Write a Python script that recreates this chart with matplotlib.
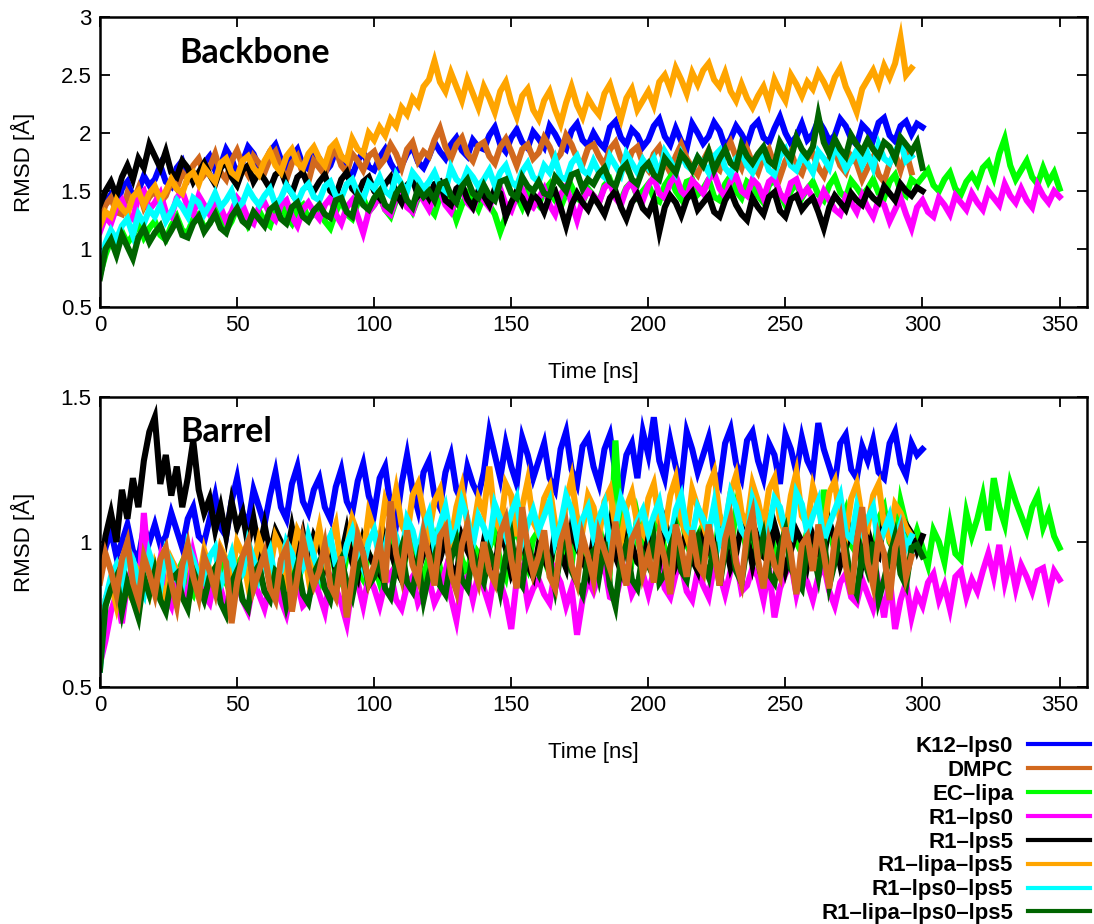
import numpy as np
import matplotlib
matplotlib.use("Agg")
import matplotlib.pyplot as plt

plt.rcParams['font.family'] = ['Liberation Sans', 'DejaVu Sans']

STEP_NS = 2  # sampling interval of the RMSD traces

labels = ['K12\u2013lps0', 'DMPC', 'EC\u2013lipa', 'R1\u2013lps0', 'R1\u2013lps5',
          'R1\u2013lipa\u2013lps5', 'R1\u2013lps0\u2013lps5', 'R1\u2013lipa\u2013lps0\u2013lps5']
colors = ['#0000ff', '#d2691e', '#00ff00', '#ff00ff', '#000000',
          '#ffa500', '#00ffff', '#006400']

# ---- Backbone RMSD [A], one row = 20 ns ----
bb_k12 = [1.28, 1.40, 1.47, 1.36, 1.52, 1.58, 1.45, 1.50, 1.63, 1.55,
          1.60, 1.72, 1.58, 1.54, 1.70, 1.76, 1.62, 1.66, 1.59, 1.74,
          1.80, 1.68, 1.72, 1.86, 1.78, 1.64, 1.75, 1.88, 1.82, 1.70,
          1.74, 1.84, 1.90, 1.77, 1.68, 1.80, 1.86, 1.72, 1.69, 1.83,
          1.78, 1.66, 1.72, 1.85, 1.80, 1.70, 1.63, 1.76, 1.84, 1.71,
          1.68, 1.79, 1.86, 1.74, 1.66, 1.72, 1.82, 1.88, 1.75, 1.70,
          1.80, 1.92, 1.84, 1.78, 1.90, 1.96, 1.85, 1.80, 1.94, 1.88,
          1.86, 1.98, 2.05, 1.90, 1.84, 1.96, 2.03, 1.92, 1.87, 2.01,
          1.95, 1.88, 2.06, 1.99, 1.90, 1.86, 2.02, 2.08, 1.94, 1.89,
          2.00, 1.92, 1.87, 2.05, 2.10, 1.96, 1.90, 2.03, 1.98, 1.88,
          1.94, 2.06, 2.12, 1.97, 1.90, 2.04, 1.93, 1.87, 2.08, 2.00,
          1.91, 1.97, 2.09, 2.02, 1.88, 1.95, 2.06, 1.99, 1.90, 2.05,
          2.10, 1.96, 1.92, 2.04, 2.14, 2.00, 1.91, 1.97, 2.08, 1.94,
          1.99, 2.11, 2.03, 1.93, 1.98, 2.12, 2.06, 1.95, 1.90, 2.07,
          2.02, 1.94, 2.09, 2.13, 1.98, 1.93, 2.06, 2.10, 1.99, 2.08,
          2.05]
bb_dmpc = [1.25, 1.38, 1.44, 1.32, 1.30, 1.48, 1.40, 1.52, 1.36, 1.45,
           1.50, 1.40, 1.46, 1.58, 1.52, 1.66, 1.60, 1.72, 1.78, 1.64,
           1.70, 1.82, 1.66, 1.60, 1.76, 1.85, 1.72, 1.64, 1.80, 1.74,
           1.66, 1.78, 1.84, 1.70, 1.60, 1.74, 1.80, 1.65, 1.58, 1.76,
           1.70, 1.64, 1.79, 1.86, 1.72, 1.66, 1.82, 1.76, 1.68, 1.80,
           1.84, 1.72, 1.78, 1.90, 1.82, 1.70, 1.86, 1.92, 1.76, 1.84,
           1.80, 1.94, 2.04, 1.88, 1.78, 1.90, 1.96, 1.82, 1.76, 1.89,
           1.92, 1.80, 1.74, 1.88, 1.95, 1.84, 1.72, 1.86, 1.90, 1.78,
           1.83, 1.96, 1.88, 1.76, 1.82, 1.98, 1.90, 1.78, 1.73, 1.87,
           1.90, 1.80, 1.72, 1.86, 1.92, 1.78, 1.70, 1.84, 1.88, 1.74,
           1.68, 1.82, 1.88, 1.75, 1.66, 1.80, 1.90, 1.78, 1.70, 1.64,
           1.76, 1.85, 1.72, 1.68, 1.83, 1.92, 1.79, 1.70, 1.86, 1.74,
           1.66, 1.80, 1.86, 1.72, 1.62, 1.76, 1.84, 1.70, 1.65, 1.79,
           1.82, 1.70, 1.63, 1.78, 1.85, 1.72, 1.66, 1.80, 1.74, 1.60,
           1.70, 1.79, 1.64, 1.58, 1.74, 1.82, 1.68, 1.84, 1.66]
bb_eclipa = [0.78, 0.95, 1.08, 1.02, 1.15, 1.05, 1.12, 1.22, 1.10, 1.18,
             1.24, 1.12, 1.08, 1.20, 1.28, 1.16, 1.14, 1.26, 1.30, 1.18,
             1.22, 1.34, 1.26, 1.16, 1.24, 1.36, 1.30, 1.20, 1.28, 1.33,
             1.24, 1.20, 1.35, 1.40, 1.28, 1.22, 1.34, 1.38, 1.26, 1.30,
             1.36, 1.24, 1.18, 1.32, 1.42, 1.30, 1.26, 1.40, 1.44, 1.32,
             1.38, 1.46, 1.34, 1.28, 1.42, 1.50, 1.40, 1.32, 1.44, 1.48,
             1.36, 1.30, 1.45, 1.52, 1.40, 1.25, 1.38, 1.48, 1.42, 1.34,
             1.46, 1.38, 1.30, 1.15, 1.28, 1.40, 1.46, 1.36, 1.50, 1.44,
             1.38, 1.50, 1.56, 1.42, 1.36, 1.48, 1.54, 1.44, 1.40, 1.52,
             1.46, 1.40, 1.55, 1.60, 1.48, 1.42, 1.53, 1.58, 1.45, 1.50,
             1.56, 1.44, 1.41, 1.55, 1.62, 1.50, 1.43, 1.58, 1.60, 1.47,
             1.52, 1.60, 1.45, 1.42, 1.56, 1.63, 1.50, 1.44, 1.58, 1.54,
             1.46, 1.40, 1.55, 1.60, 1.48, 1.38, 1.50, 1.57, 1.44, 1.52,
             1.58, 1.47, 1.42, 1.55, 1.62, 1.49, 1.44, 1.59, 1.53, 1.46,
             1.52, 1.60, 1.48, 1.44, 1.58, 1.64, 1.50, 1.46, 1.60, 1.56,
             1.62, 1.68, 1.55, 1.50, 1.60, 1.66, 1.52, 1.47, 1.58, 1.64,
             1.56, 1.70, 1.75, 1.62, 1.82, 1.95, 1.72, 1.60, 1.68, 1.76,
             1.62, 1.56, 1.70, 1.58, 1.66, 1.52]
bb_r1lps0 = [1.15, 1.28, 1.22, 1.36, 1.42, 1.30, 1.26, 1.45, 1.50, 1.34,
             1.40, 1.48, 1.32, 1.28, 1.44, 1.50, 1.36, 1.30, 1.46, 1.38,
             1.30, 1.42, 1.36, 1.24, 1.32, 1.44, 1.38, 1.26, 1.22, 1.36,
             1.40, 1.30, 1.25, 1.38, 1.42, 1.28, 1.20, 1.34, 1.40, 1.32,
             1.26, 1.38, 1.44, 1.30, 1.22, 1.36, 1.42, 1.28, 1.14, 1.32,
             1.38, 1.46, 1.34, 1.30, 1.44, 1.50, 1.36, 1.32, 1.48, 1.42,
             1.34, 1.46, 1.50, 1.38, 1.32, 1.44, 1.52, 1.40, 1.35, 1.47,
             1.42, 1.36, 1.49, 1.52, 1.38, 1.33, 1.46, 1.51, 1.40, 1.36,
             1.44, 1.52, 1.38, 1.30, 1.47, 1.54, 1.40, 1.25, 1.42, 1.50,
             1.46, 1.40, 1.53, 1.57, 1.44, 1.38, 1.52, 1.58, 1.46, 1.42,
             1.55, 1.62, 1.48, 1.44, 1.57, 1.63, 1.50, 1.45, 1.59, 1.54,
             1.48, 1.60, 1.65, 1.52, 1.45, 1.58, 1.63, 1.50, 1.46, 1.60,
             1.55, 1.44, 1.58, 1.62, 1.48, 1.42, 1.57, 1.60, 1.46, 1.52,
             1.44, 1.38, 1.50, 1.42, 1.34, 1.30, 1.45, 1.40, 1.32, 1.46,
             1.36, 1.28, 1.42, 1.38, 1.24, 1.34, 1.44, 1.30, 1.18, 1.36,
             1.42, 1.32, 1.28, 1.44, 1.38, 1.30, 1.46, 1.40, 1.34, 1.48,
             1.40, 1.34, 1.50, 1.44, 1.38, 1.56, 1.46, 1.40, 1.52, 1.42,
             1.36, 1.55, 1.46, 1.40, 1.50, 1.45]
bb_r1lps5 = [1.38, 1.50, 1.58, 1.46, 1.62, 1.72, 1.60, 1.78, 1.70, 1.90,
             1.80, 1.70, 1.84, 1.66, 1.62, 1.76, 1.70, 1.58, 1.66, 1.74,
             1.64, 1.56, 1.70, 1.75, 1.62, 1.55, 1.68, 1.72, 1.58, 1.66,
             1.60, 1.52, 1.64, 1.68, 1.55, 1.48, 1.62, 1.66, 1.54, 1.50,
             1.58, 1.64, 1.50, 1.46, 1.60, 1.66, 1.52, 1.47, 1.58, 1.62,
             1.50, 1.44, 1.56, 1.62, 1.48, 1.40, 1.55, 1.60, 1.46, 1.52,
             1.44, 1.56, 1.58, 1.42, 1.38, 1.52, 1.56, 1.43, 1.36, 1.50,
             1.46, 1.38, 1.52, 1.48, 1.28, 1.40, 1.50, 1.44, 1.34, 1.47,
             1.42, 1.32, 1.46, 1.50, 1.36, 1.20, 1.38, 1.48, 1.40, 1.34,
             1.45, 1.38, 1.30, 1.44, 1.50, 1.36, 1.26, 1.40, 1.47, 1.35,
             1.30, 1.42, 1.15, 1.36, 1.46, 1.40, 1.29, 1.43, 1.49, 1.34,
             1.40, 1.46, 1.32, 1.28, 1.42, 1.50, 1.38, 1.30, 1.25, 1.44,
             1.36, 1.30, 1.45, 1.49, 1.33, 1.28, 1.43, 1.46, 1.34, 1.40,
             1.44, 1.32, 1.18, 1.36, 1.46, 1.40, 1.34, 1.48, 1.42, 1.38,
             1.50, 1.44, 1.40, 1.54, 1.48, 1.42, 1.56, 1.50, 1.46, 1.53,
             1.50]
bb_r1lipalps5 = [1.20, 1.32, 1.28, 1.42, 1.35, 1.30, 1.45, 1.50, 1.38, 1.48,
                 1.54, 1.42, 1.50, 1.60, 1.52, 1.48, 1.62, 1.66, 1.56, 1.70,
                 1.64, 1.58, 1.74, 1.78, 1.66, 1.62, 1.76, 1.80, 1.70, 1.64,
                 1.76, 1.84, 1.72, 1.66, 1.80, 1.86, 1.74, 1.70, 1.82, 1.88,
                 1.78, 1.72, 1.87, 1.92, 1.80, 1.76, 1.95, 1.86, 1.82, 2.00,
                 1.94, 2.05, 1.98, 2.12, 2.06, 2.22, 2.16, 2.30, 2.24, 2.40,
                 2.46, 2.62, 2.44, 2.36, 2.52, 2.40, 2.28, 2.46, 2.34, 2.22,
                 2.40, 2.30, 2.18, 2.36, 2.44, 2.26, 2.14, 2.32, 2.38, 2.20,
                 2.12, 2.28, 2.36, 2.20, 2.08, 2.26, 2.40, 2.24, 2.14, 2.30,
                 2.22, 2.16, 2.34, 2.42, 2.26, 2.12, 2.30, 2.38, 2.20, 2.28,
                 2.36, 2.24, 2.44, 2.50, 2.38, 2.56, 2.46, 2.34, 2.52, 2.42,
                 2.54, 2.60, 2.46, 2.40, 2.52, 2.36, 2.28, 2.42, 2.30, 2.22,
                 2.32, 2.40, 2.26, 2.46, 2.36, 2.28, 2.50, 2.42, 2.32, 2.44,
                 2.38, 2.52, 2.44, 2.34, 2.48, 2.56, 2.40, 2.30, 2.18, 2.38,
                 2.46, 2.54, 2.42, 2.58, 2.48, 2.60, 2.82, 2.50, 2.56]
bb_r1lps0lps5 = [0.78, 1.05, 1.16, 1.08, 1.20, 1.26, 1.12, 1.30, 1.22, 1.34,
                 1.28, 1.38, 1.24, 1.32, 1.42, 1.36, 1.28, 1.44, 1.40, 1.30,
                 1.38, 1.48, 1.36, 1.42, 1.50, 1.35, 1.40, 1.52, 1.44, 1.38,
                 1.46, 1.52, 1.38, 1.44, 1.55, 1.48, 1.40, 1.51, 1.56, 1.45,
                 1.42, 1.54, 1.58, 1.46, 1.44, 1.56, 1.60, 1.48, 1.43, 1.57,
                 1.52, 1.62, 1.50, 1.46, 1.64, 1.56, 1.50, 1.66, 1.60, 1.52,
                 1.58, 1.66, 1.54, 1.50, 1.70, 1.60, 1.56, 1.68, 1.62, 1.54,
                 1.60, 1.68, 1.55, 1.66, 1.72, 1.58, 1.54, 1.67, 1.74, 1.62,
                 1.58, 1.72, 1.66, 1.78, 1.62, 1.60, 1.74, 1.80, 1.68, 1.64,
                 1.76, 1.66, 1.62, 1.80, 1.72, 1.64, 1.82, 1.74, 1.66, 1.77,
                 1.70, 1.78, 1.64, 1.84, 1.76, 1.66, 1.82, 1.72, 1.68, 1.79,
                 1.74, 1.66, 1.80, 1.85, 1.70, 1.64, 1.78, 1.83, 1.72, 1.66,
                 1.77, 1.82, 1.68, 1.64, 1.80, 1.86, 1.72, 1.68, 1.80, 1.74,
                 1.66, 1.84, 1.78, 1.70, 1.88, 1.80, 1.69, 1.76, 1.85, 1.72,
                 1.82, 1.70, 1.90, 1.78, 1.74, 1.84, 1.92, 1.76, 1.80]
bb_r1all = [0.75, 1.00, 1.08, 0.95, 1.12, 1.02, 0.92, 1.10, 1.18, 1.06,
            1.14, 1.20, 1.08, 1.16, 1.25, 1.12, 1.10, 1.22, 1.28, 1.15,
            1.22, 1.30, 1.18, 1.14, 1.28, 1.35, 1.24, 1.20, 1.32, 1.26,
            1.20, 1.34, 1.38, 1.26, 1.22, 1.36, 1.40, 1.28, 1.24, 1.33,
            1.38, 1.30, 1.27, 1.42, 1.44, 1.32, 1.28, 1.46, 1.38, 1.34,
            1.44, 1.50, 1.38, 1.34, 1.48, 1.54, 1.42, 1.36, 1.52, 1.45,
            1.50, 1.42, 1.56, 1.58, 1.46, 1.40, 1.54, 1.60, 1.48, 1.44,
            1.55, 1.46, 1.42, 1.58, 1.60, 1.48, 1.44, 1.62, 1.54, 1.50,
            1.58, 1.48, 1.46, 1.62, 1.56, 1.50, 1.64, 1.66, 1.52, 1.60,
            1.56, 1.65, 1.70, 1.58, 1.54, 1.68, 1.73, 1.60, 1.56, 1.69,
            1.74, 1.64, 1.60, 1.78, 1.72, 1.66, 1.82, 1.76, 1.68, 1.79,
            1.72, 1.84, 1.68, 1.78, 1.86, 1.74, 1.70, 1.90, 1.80, 1.74,
            1.82, 1.88, 1.76, 1.72, 1.92, 1.84, 1.78, 1.96, 1.86, 1.80,
            1.88, 2.15, 1.92, 1.82, 1.95, 1.86, 1.80, 1.98, 1.90, 1.84,
            1.94, 1.86, 1.80, 1.92, 1.88, 1.78, 1.96, 1.90, 1.84, 1.92,
            1.70]

# ---- Barrel RMSD [A], one row = 20 ns ----
br_k12 = [0.88, 0.98, 1.04, 0.95, 1.00, 1.06, 0.97, 0.94, 1.05, 1.00,
          1.06, 0.99, 1.02, 1.10, 1.04, 0.98, 1.08, 1.12, 1.02, 1.00,
          1.08, 1.16, 1.05, 1.02, 1.14, 1.22, 1.10, 1.06, 1.18, 1.12,
          1.06, 1.16, 1.24, 1.12, 1.08, 1.20, 1.26, 1.14, 1.10, 1.18,
          1.22, 1.12, 1.08, 1.19, 1.25, 1.14, 1.10, 1.21, 1.27, 1.16,
          1.10, 1.22, 1.26, 1.12, 1.06, 1.20, 1.30, 1.18, 1.11, 1.24,
          1.28, 1.16, 1.12, 1.24, 1.30, 1.18, 1.14, 1.26, 1.20, 1.16,
          1.24, 1.38, 1.30, 1.22, 1.34, 1.26, 1.20, 1.36, 1.30, 1.22,
          1.28, 1.34, 1.22, 1.18, 1.32, 1.38, 1.25, 1.20, 1.33, 1.36,
          1.26, 1.20, 1.32, 1.37, 1.24, 1.18, 1.30, 1.34, 1.22, 1.38,
          1.30, 1.43, 1.28, 1.22, 1.35, 1.26, 1.20, 1.38, 1.32, 1.24,
          1.30, 1.36, 1.24, 1.20, 1.34, 1.39, 1.27, 1.22, 1.35, 1.38,
          1.28, 1.22, 1.34, 1.30, 1.20, 1.37, 1.32, 1.24, 1.36, 1.28,
          1.24, 1.41, 1.32, 1.26, 1.20, 1.34, 1.37, 1.25, 1.22, 1.33,
          1.28, 1.35, 1.24, 1.22, 1.34, 1.38, 1.27, 1.23, 1.34, 1.30,
          1.32]
br_dmpc = [0.86, 0.96, 0.90, 0.82, 0.94, 1.00, 0.86, 0.80, 0.95, 0.89,
           0.82, 0.94, 0.98, 0.86, 0.78, 0.92, 0.99, 0.88, 0.81, 0.95,
           0.90, 0.83, 0.97, 0.93, 0.72, 0.86, 0.95, 1.00, 0.84, 0.90,
           0.96, 0.84, 0.80, 0.94, 0.98, 0.76, 0.88, 1.01, 0.92, 0.85,
           0.90, 0.99, 0.85, 0.81, 0.95, 0.74, 0.88, 1.02, 0.96, 0.86,
           0.92, 1.00, 0.86, 1.14, 0.96, 0.88, 1.04, 0.92, 0.87, 1.03,
           0.95, 0.85, 1.02, 1.05, 0.89, 0.83, 0.99, 1.06, 0.92, 0.86,
           1.00, 0.90, 0.86, 1.03, 1.08, 0.94, 0.84, 1.12, 0.98, 0.89,
           0.95, 1.04, 0.88, 0.84, 1.00, 1.06, 0.92, 0.86, 1.02, 0.95,
           0.87, 1.03, 0.97, 0.91, 1.07, 0.95, 0.85, 1.01, 1.05, 0.89,
           0.96, 0.86, 1.02, 0.94, 0.82, 1.06, 0.98, 0.88, 1.04, 0.92,
           0.89, 1.06, 0.97, 0.85, 1.01, 1.08, 0.93, 0.86, 1.03, 1.10,
           0.94, 0.84, 1.00, 0.92, 0.88, 1.05, 0.96, 0.82, 0.99, 1.02,
           0.90, 1.06, 0.96, 0.84, 1.01, 1.08, 0.92, 0.82, 1.00, 1.12,
           0.93, 0.85, 1.02, 0.96, 0.80, 0.98, 1.04, 0.88, 0.95]
br_eclipa = [0.58, 0.78, 0.86, 0.82, 0.90, 0.84, 0.80, 0.88, 0.91, 0.83,
             0.86, 0.92, 0.84, 0.80, 0.89, 0.93, 0.85, 0.82, 0.90, 0.87,
             0.83, 0.91, 0.94, 0.86, 0.82, 0.92, 0.95, 0.88, 0.84, 0.90,
             0.94, 0.86, 0.83, 0.93, 0.96, 0.87, 0.84, 0.94, 0.97, 0.88,
             0.85, 0.92, 0.98, 0.89, 0.86, 0.95, 0.99, 0.90, 0.87, 0.96,
             0.92, 0.86, 0.97, 1.00, 0.90, 0.87, 0.98, 1.02, 0.93, 0.88,
             0.95, 1.01, 0.91, 0.88, 0.98, 1.03, 0.94, 0.89, 0.99, 0.96,
             0.90, 0.98, 1.03, 0.93, 0.88, 1.00, 1.05, 0.96, 0.91, 1.01,
             1.04, 0.94, 0.89, 1.02, 1.05, 0.96, 0.92, 1.08, 1.00, 0.93,
             0.97, 1.06, 0.96, 0.91, 1.35, 1.04, 0.98, 0.94, 1.09, 1.00,
             0.95, 1.04, 1.08, 0.97, 0.93, 1.05, 1.10, 0.99, 0.95, 1.02,
             1.06, 0.96, 0.94, 1.09, 1.03, 0.95, 1.12, 1.05, 0.97, 1.01,
             0.94, 1.04, 1.08, 0.97, 0.93, 1.06, 1.10, 1.00, 0.96, 1.04,
             1.00, 0.95, 1.18, 1.04, 0.97, 1.06, 1.11, 0.99, 0.96, 1.07,
             1.02, 0.96, 1.08, 1.12, 1.00, 0.97, 1.14, 1.06, 0.98, 1.04,
             0.98, 0.92, 1.04, 1.00, 0.93, 1.06, 0.96, 0.94, 1.10, 1.02,
             1.08, 1.16, 1.04, 1.22, 1.12, 1.06, 1.20, 1.14, 1.09, 1.04,
             1.12, 1.16, 1.05, 1.10, 1.02, 0.98]
br_r1lps0 = [0.58, 0.66, 0.76, 0.82, 0.72, 0.86, 0.92, 0.80, 1.10, 0.88,
             0.84, 0.94, 0.82, 0.78, 0.90, 0.86, 0.80, 0.96, 0.88, 0.82,
             0.79, 0.88, 0.84, 0.77, 0.85, 0.87, 0.80, 0.76, 0.86, 0.82,
             0.77, 0.85, 0.88, 0.80, 0.75, 0.84, 0.86, 0.78, 0.80, 0.87,
             0.82, 0.76, 0.88, 0.84, 0.79, 0.72, 0.85, 0.86, 0.78, 0.88,
             0.84, 0.78, 0.86, 0.89, 0.80, 0.77, 0.85, 0.88, 0.79, 0.83,
             0.87, 0.79, 0.83, 0.90, 0.81, 0.73, 0.86, 0.88, 0.80, 0.89,
             0.84, 0.78, 0.90, 0.86, 0.80, 0.70, 0.87, 0.91, 0.79, 0.84,
             0.87, 0.82, 0.79, 0.90, 0.86, 0.78, 0.84, 0.68, 0.80, 0.87,
             0.83, 0.89, 0.92, 0.81, 0.80, 0.88, 0.91, 0.82, 0.86, 0.89,
             0.82, 0.90, 0.93, 0.84, 0.81, 0.89, 0.92, 0.83, 0.80, 0.90,
             0.85, 0.81, 0.92, 0.89, 0.82, 0.90, 0.94, 0.83, 0.85, 0.91,
             0.88, 0.80, 0.91, 0.74, 0.84, 0.89, 0.93, 0.82, 0.90, 0.86,
             0.80, 0.88, 0.92, 0.83, 0.78, 0.86, 0.89, 0.81, 0.79, 0.87,
             0.82, 0.77, 0.85, 0.74, 0.88, 0.70, 0.80, 0.86, 0.74, 0.82,
             0.78, 0.86, 0.89, 0.80, 0.85, 0.77, 0.88, 0.90, 0.81, 0.87,
             0.83, 0.90, 0.96, 0.88, 0.99, 0.86, 0.94, 0.84, 0.92, 0.88,
             0.83, 0.90, 0.91, 0.82, 0.90, 0.87]
br_r1lps5 = [0.88, 1.02, 1.10, 1.00, 1.18, 1.08, 1.22, 1.12, 1.28, 1.38,
             1.43, 1.20, 1.30, 1.16, 1.26, 1.12, 1.22, 1.35, 1.18, 1.10,
             1.15, 1.04, 1.12, 1.02, 1.14, 1.05, 1.10, 0.99, 1.08, 0.97,
             1.06, 0.96, 1.04, 1.00, 0.94, 1.05, 0.95, 1.03, 0.93, 1.02,
             0.98, 0.92, 1.00, 0.90, 0.95, 1.04, 0.93, 0.88, 1.01, 0.96,
             0.92, 0.89, 1.02, 0.97, 0.91, 0.87, 1.00, 0.94, 0.90, 0.96,
             0.98, 0.90, 0.94, 1.01, 0.92, 0.88, 1.02, 0.97, 0.93, 0.89,
             1.00, 0.95, 0.91, 1.03, 0.98, 0.89, 0.94, 1.02, 0.92, 0.88,
             0.99, 0.94, 0.90, 1.04, 0.96, 0.91, 1.05, 0.98, 0.94, 0.89,
             1.01, 0.92, 0.97, 1.06, 0.95, 0.90, 1.03, 0.99, 0.93, 0.91,
             1.02, 0.96, 0.93, 1.07, 1.01, 0.92, 0.97, 1.04, 0.94, 0.90,
             1.03, 0.97, 0.94, 1.05, 1.00, 0.91, 0.96, 1.06, 1.02, 0.92,
             1.01, 0.95, 0.93, 1.06, 0.99, 0.90, 0.97, 1.04, 1.00, 0.92,
             1.02, 0.96, 0.94, 1.07, 1.01, 0.92, 0.98, 1.05, 1.03, 0.93,
             1.04, 0.97, 0.95, 1.08, 1.02, 0.94, 1.00, 1.06, 1.03, 0.97,
             1.02]
br_r1lipalps5 = [0.72, 0.80, 0.86, 0.78, 0.88, 0.84, 0.80, 0.90, 0.87, 0.82,
                 0.92, 0.86, 0.80, 0.94, 0.90, 0.85, 0.96, 0.93, 0.86, 0.97,
                 0.90, 0.86, 0.98, 0.94, 0.88, 1.00, 0.96, 0.85, 0.92, 1.01,
                 0.95, 0.90, 1.02, 0.98, 0.87, 0.94, 1.04, 1.00, 0.88, 0.96,
                 1.05, 0.94, 1.00, 1.06, 0.91, 0.98, 1.08, 1.03, 0.95, 1.10,
                 1.04, 1.00, 1.14, 1.08, 1.18, 1.06, 1.02, 1.16, 1.20, 1.10,
                 1.03, 1.14, 1.18, 1.05, 1.00, 1.12, 1.19, 1.06, 1.03, 1.15,
                 1.10, 1.26, 1.08, 1.04, 1.20, 1.16, 1.02, 1.12, 1.21, 1.07,
                 1.03, 1.15, 1.19, 1.06, 1.01, 1.14, 1.22, 1.08, 1.04, 1.16,
                 1.12, 1.02, 1.14, 1.18, 1.05, 1.00, 1.12, 1.17, 1.06, 1.03,
                 1.15, 1.20, 1.07, 1.04, 1.16, 1.22, 1.08, 1.02, 1.18, 1.12,
                 1.06, 1.19, 1.24, 1.09, 1.04, 1.17, 1.23, 1.10, 1.06, 1.20,
                 1.14, 1.05, 1.18, 1.22, 1.08, 1.03, 1.16, 1.24, 1.09, 1.06,
                 1.19, 1.12, 1.04, 1.17, 1.21, 1.07, 1.02, 1.15, 1.20, 1.08,
                 1.05, 1.16, 1.20, 1.06, 1.01, 1.13, 1.10, 1.05, 1.02]
br_r1lps0lps5 = [0.56, 0.80, 0.88, 0.92, 0.84, 0.98, 0.94, 0.86, 0.82, 0.96,
                 0.90, 0.84, 0.97, 0.93, 0.87, 0.85, 0.99, 0.94, 0.88, 0.86,
                 0.95, 0.98, 0.85, 0.90, 0.96, 0.86, 0.89, 1.00, 0.94, 0.87,
                 0.92, 0.97, 0.87, 0.90, 1.00, 0.96, 0.88, 0.91, 1.02, 0.95,
                 0.89, 0.98, 1.02, 0.92, 0.90, 0.99, 1.04, 0.96, 0.91, 1.00,
                 1.04, 0.94, 0.98, 1.07, 1.02, 0.95, 1.08, 1.04, 0.96, 1.05,
                 1.10, 0.98, 1.06, 1.12, 1.01, 1.04, 1.14, 1.08, 0.99, 1.09,
                 1.05, 0.99, 1.13, 1.08, 1.02, 1.10, 1.15, 1.00, 1.06, 1.11,
                 1.04, 1.09, 1.14, 1.00, 1.06, 1.16, 1.11, 1.01, 1.08, 1.12,
                 1.02, 1.08, 1.13, 0.99, 1.05, 1.15, 1.10, 1.00, 1.07, 1.11,
                 1.03, 1.09, 1.14, 1.04, 1.00, 1.11, 1.16, 1.05, 1.02, 1.12,
                 1.08, 1.03, 1.13, 1.00, 1.06, 1.17, 1.12, 1.04, 1.01, 1.15,
                 1.10, 1.01, 1.05, 1.15, 1.12, 1.04, 1.02, 1.17, 1.13, 1.03,
                 1.09, 1.14, 1.00, 1.06, 1.11, 1.16, 1.03, 1.01, 1.12, 1.04,
                 1.08, 1.12, 0.99, 1.04, 1.09, 1.00, 1.06, 0.98, 1.02]
br_r1all = [0.56, 0.78, 0.84, 0.88, 0.76, 0.86, 0.80, 0.74, 0.88, 0.82,
            0.90, 0.80, 0.76, 0.87, 0.89, 0.81, 0.77, 0.90, 0.85, 0.80,
            0.88, 0.91, 0.79, 0.75, 0.86, 0.90, 0.80, 0.77, 0.89, 0.92,
            0.83, 0.80, 0.90, 0.88, 0.78, 0.85, 0.92, 0.82, 0.79, 0.89,
            0.93, 0.84, 0.80, 0.90, 0.94, 0.86, 0.81, 0.91, 0.95, 0.85,
            0.88, 0.94, 0.84, 0.81, 0.92, 0.98, 0.86, 0.83, 0.93, 0.80,
            0.89, 0.95, 0.85, 0.82, 0.94, 1.00, 0.87, 0.84, 0.96, 0.90,
            0.86, 0.97, 0.92, 0.83, 0.95, 1.02, 0.88, 0.85, 0.99, 0.93,
            0.89, 0.99, 0.94, 0.84, 0.96, 1.03, 0.90, 0.86, 0.82, 0.95,
            0.97, 0.88, 1.00, 0.85, 0.78, 0.94, 0.99, 0.87, 0.84, 0.96,
            0.92, 1.01, 0.86, 0.89, 0.98, 1.04, 0.90, 0.87, 0.99, 1.02,
            0.93, 0.88, 1.00, 0.85, 0.97, 1.03, 0.90, 0.86, 0.99, 1.05,
            0.94, 1.02, 0.89, 0.86, 0.98, 1.04, 0.91, 0.87, 0.84, 1.00,
            0.97, 0.88, 1.01, 0.85, 0.93, 1.03, 0.98, 0.86, 0.82, 0.96,
            0.90, 1.00, 0.80, 0.87, 0.95, 1.02, 0.89, 0.85, 0.98, 0.99,
            0.95]

backbone = [bb_k12, bb_dmpc, bb_eclipa, bb_r1lps0, bb_r1lps5,
            bb_r1lipalps5, bb_r1lps0lps5, bb_r1all]
barrel = [br_k12, br_dmpc, br_eclipa, br_r1lps0, br_r1lps5,
          br_r1lipalps5, br_r1lps0lps5, br_r1all]

fig = plt.figure(figsize=(10.94, 9.24), dpi=100)
ax1 = fig.add_axes([0.0914, 0.6677, 0.9022, 0.3139])
ax2 = fig.add_axes([0.0914, 0.2565, 0.9022, 0.3139])

# draw order: legend order on top panel, DMPC last on the barrel panel
orders = {ax1: [0, 1, 2, 3, 4, 5, 6, 7], ax2: [0, 2, 3, 4, 5, 6, 7, 1]}
handles = [None] * 8
for ax, data in [(ax1, backbone), (ax2, barrel)]:
    for z, i in enumerate(orders[ax]):
        y = np.array(data[i])
        t = np.arange(len(y)) * STEP_NS
        ln, = ax.plot(t, y, color=colors[i], lw=4.4, zorder=2 + z,
                      solid_joinstyle='miter')
        if ax is ax1:
            handles[i] = ln

for ax in (ax1, ax2):
    ax.set_xlim(0, 360)
    ax.set_xticks(np.arange(0, 351, 50))
    ax.tick_params(direction='in', length=7, width=1.3, top=True, right=True,
                   labelsize=16, pad=6)
    for sp in ax.spines.values():
        sp.set_linewidth(1.8)
        sp.set_zorder(30)
    ax.set_xlabel('Time [ns]', fontsize=16)
    ax.set_ylabel('RMSD [Å]', fontsize=16)
    ax.xaxis.set_label_coords(0.5, -0.19)
    ax.yaxis.set_label_coords(-0.066, 0.5)

ax1.set_ylim(0.5, 3)
ax1.set_yticks([0.5, 1, 1.5, 2, 2.5, 3])
ax1.set_yticklabels(['0.5', '1', '1.5', '2', '2.5', '3'])
ax2.set_ylim(0.5, 1.5)
ax2.set_yticks([0.5, 1, 1.5])
ax2.set_yticklabels(['0.5', '1', '1.5'])

ax1.text(0.08, 0.875, 'Backbone', transform=ax1.transAxes, fontsize=24.5,
         fontweight='bold', family='Lato', va='center', ha='left', zorder=20)
ax2.text(0.081, 0.88, 'Barrel', transform=ax2.transAxes, fontsize=24.5,
         fontweight='bold', family='Lato', va='center', ha='left', zorder=20)

leg = fig.legend(handles, labels, loc='upper right',
                 bbox_to_anchor=(1090 / 1094, 1 - 736 / 924),
                 frameon=False, markerfirst=False, handlelength=2.8,
                 handletextpad=0.65, labelspacing=0.13, borderpad=0,
                 borderaxespad=0, prop={'weight': 'bold', 'size': 16})
for h in leg.legend_handles:
    h.set_linewidth(3)

fig.savefig('out.png', dpi=100)
